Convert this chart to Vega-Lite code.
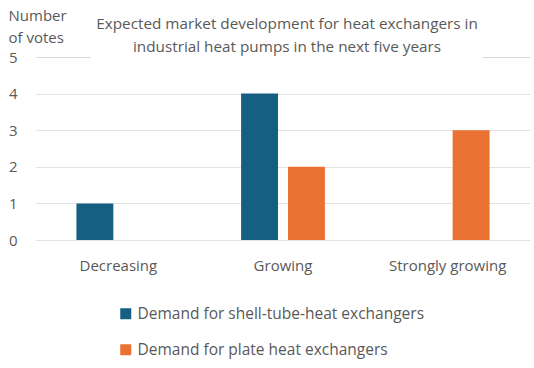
{
  "$schema": "https://vega.github.io/schema/vega-lite/v6.json",
  "autosize": "none",
  "width": 494,
  "height": 183,
  "padding": {"left": 36, "top": 57, "right": 4, "bottom": 128},
  "background": "white",
  "config": {
    "font": "Open Sans",
    "view": {"stroke": null},
    "axis": {"labelColor": "#595959", "titleColor": "#595959", "labelFontSize": 15, "titleFontSize": 15, "titleFontWeight": "normal"}
  },
  "title": {
    "text": ["Expected market development for heat exchangers in", "industrial heat pumps in the next five years"],
    "anchor": "middle",
    "frame": "group",
    "fontSize": 15.3,
    "fontWeight": "normal",
    "color": "#595959",
    "lineHeight": 23,
    "baseline": "top",
    "offset": 0,
    "dy": 47,
    "dx": 4
  },
  "data": {
    "values": [
      {"category": "Decreasing", "series": "Demand for shell-tube-heat exchangers", "votes": 1},
      {"category": "Decreasing", "series": "Demand for plate heat exchangers", "votes": 0},
      {"category": "Growing", "series": "Demand for shell-tube-heat exchangers", "votes": 4},
      {"category": "Growing", "series": "Demand for plate heat exchangers", "votes": 2},
      {"category": "Strongly growing", "series": "Demand for shell-tube-heat exchangers", "votes": 0},
      {"category": "Strongly growing", "series": "Demand for plate heat exchangers", "votes": 3}
    ]
  },
  "mark": {"type": "bar"},
  "encoding": {
    "x": {
      "field": "category",
      "type": "nominal",
      "sort": ["Decreasing", "Growing", "Strongly growing"],
      "scale": {"paddingInner": 0, "paddingOuter": 0},
      "axis": {"title": null, "labelAngle": 0, "domain": false, "ticks": false, "labelPadding": 18}
    },
    "xOffset": {
      "field": "series",
      "type": "nominal",
      "sort": ["Demand for shell-tube-heat exchangers", "Demand for plate heat exchangers"],
      "scale": {"paddingInner": 0.213, "paddingOuter": 0.862}
    },
    "y": {
      "field": "votes",
      "type": "quantitative",
      "scale": {"domain": [0, 5], "nice": false},
      "axis": {
        "title": ["Number", "of votes"],
        "titleAngle": 0,
        "titleAlign": "left",
        "titleBaseline": "alphabetic",
        "titleLineHeight": 22,
        "titleX": -28,
        "titleY": -37,
        "values": [0, 1, 2, 3, 4, 5],
        "labelOverlap": false,
        "domain": false,
        "ticks": false,
        "labelPadding": 19,
        "labelAlign": "right",
        "grid": true,
        "gridColor": "#d9d9d9",
        "gridDash": {"condition": {"test": "datum.value === 5", "value": [54, 392, 100]}, "value": [1, 0]}
      }
    },
    "color": {
      "field": "series",
      "type": "nominal",
      "sort": ["Demand for shell-tube-heat exchangers", "Demand for plate heat exchangers"],
      "scale": {"range": ["#156082", "#E97132"]},
      "legend": {
        "title": null,
        "orient": "none",
        "legendX": 82,
        "legendY": 249,
        "direction": "vertical",
        "symbolType": "square",
        "symbolSize": 121,
        "symbolStrokeWidth": 0,
        "labelFontSize": 15.5,
        "labelColor": "#595959",
        "labelOffset": 4,
        "labelLimit": 0,
        "rowPadding": 19
      }
    }
  }
}
